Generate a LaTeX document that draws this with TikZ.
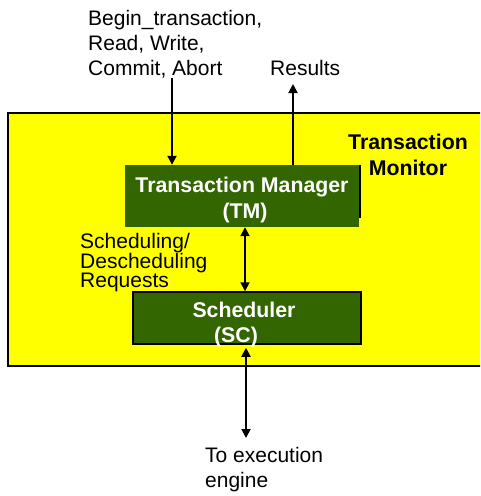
\documentclass[tikz,border=0pt]{standalone}
\usepackage{fontspec}
\setmainfont{Liberation Sans}
\usetikzlibrary{arrows.meta,calc}
\definecolor{tmgreen}{HTML}{336600}
\definecolor{tmyellow}{HTML}{FFFF00}
\tikzset{
  flow/.style={line width=1.8pt, -{Triangle[width=9pt,length=9pt]}},
  twoway/.style={line width=1.8pt, {Triangle[width=9pt,length=9pt]}-{Triangle[width=9pt,length=9pt]}},
  txt/.style={font=\fontsize{21}{23}\selectfont, inner sep=0pt, anchor=base west},
  boldtxt/.style={font=\bfseries\fontsize{21.3}{26}\selectfont, inner sep=0pt, anchor=base},
  boxtxt/.style={boldtxt, text=white},
  block/.style={fill=tmgreen, inner sep=0pt, minimum width=#1},
}
\begin{document}
\begin{tikzpicture}[x=1pt,y=-1pt]
  \clip (0,0) rectangle (480,496);
  \fill[white] (0,0) rectangle (480,496);

  % transaction monitor area (runs past the right edge)
  \draw[fill=tmyellow, line width=2pt] (8,113) rectangle (500,366);
  \node[boldtxt] (mon1) at (408,149) {Transaction};
  \node[boldtxt] (mon2) at (408,175) {Monitor};

  % transaction manager with its dark right edge
  \node[block=234pt, minimum height=62pt] (tm) at (242,196) {};
  \draw[line width=2pt] ($(tm.north east)+(1,0)$) -- ($(tm.south east)+(1,-9)$);
  \node[boxtxt] (tm1) at (242,192) {Transaction Manager};
  \node[boxtxt] (tm2) at (245,218) {(TM)};

  % scheduler
  \node[block=228pt, minimum height=52pt, draw=black, line width=1.5pt] (sc) at (247,318) {};
  \node[boxtxt] (sc1) at (244,317) {Scheduler};
  \node[boxtxt] (sc2) at (236,342) {(SC)};

  % operations coming in, results going out
  \node[txt] (op1) at (88,25) {Begin\_transaction,};
  \node[txt] (op2) at (88,50) {Read, Write,};
  \node[txt] (op3) at (88,75) {Commit, Abort};
  \node[txt] (res) at (270,75) {Results};
  \coordinate (opEnd) at (172,78);
  \coordinate (resEnd) at (293,84);
  \draw[flow] (opEnd) -- (tm.north -| opEnd);
  \draw[flow] (tm.north -| resEnd) -- (resEnd);

  % TM <-> SC requests
  \node[txt] (rq1) at (80,248) {Scheduling/};
  \node[txt] (rq2) at (80,268) {Descheduling};
  \node[txt] (rq3) at (80,287.5) {Requests};
  \coordinate (rqx) at (245,0);
  \draw[twoway] (tm.south -| rqx) -- (sc.north -| rqx);

  % SC <-> execution engine
  \coordinate (engEnd) at (246,438);
  \draw[twoway] ($(sc.south -| engEnd)+(0,3)$) -- (engEnd);
  \node[txt] (eng1) at (205,462) {To execution};
  \node[txt] (eng2) at (205,487) {engine};
\end{tikzpicture}
\end{document}
